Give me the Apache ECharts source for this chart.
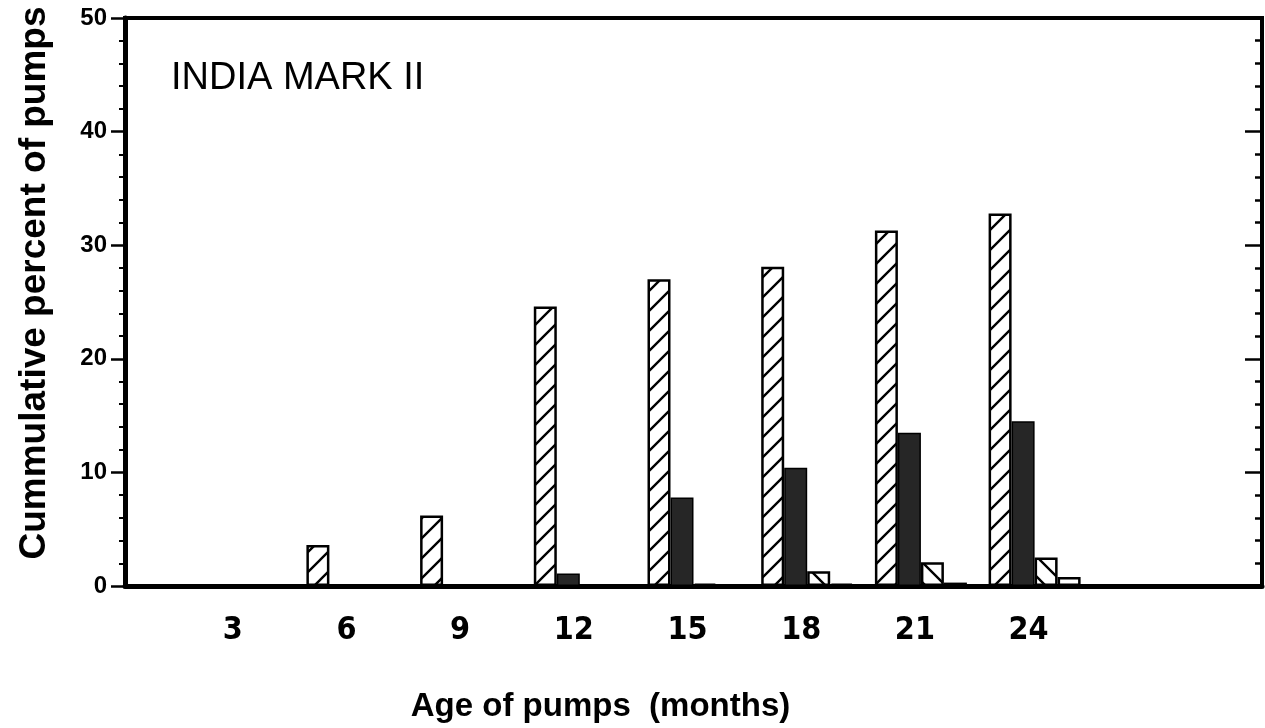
<!DOCTYPE html>
<html>
<head>
<meta charset="utf-8">
<title>India Mark II</title>
<script src="https://cdn.jsdelivr.net/npm/echarts@6/dist/echarts.min.js"></script>
<style>
    html, body { margin: 0; padding: 0; background: #fff; }
    #chart { width: 1265px; height: 728px; }
</style>
</head>
<body>
<div id="chart"></div>
<script>
// x axis runs 0..30 months, only 3..24 carry a label
const months = ['0', '3', '6', '9', '12', '15', '18', '21', '24', '27', '30'];
const ages = ['3', '6', '9', '12', '15', '18', '21', '24'];

// cummulative percent of pumps, one value per age
const hatchedUp = [0, 3.6, 6.2, 24.6, 27.0, 28.1, 31.3, 32.8];
const solidDark = [0, 0, 0, 1.1, 7.8, 10.4, 13.5, 14.5];
const hatchedDown = [0, 0, 0, 0, 0.2, 1.3, 2.1, 2.5];
const plainWhite = [0, 0, 0, 0, 0, 0.2, 0.3, 0.8];

const FONT = "'Liberation Sans', Arial, sans-serif";
const NARROW = "'DejaVu Sans Condensed', 'Liberation Sans', sans-serif";

// put the values on the full 0..30 axis
function onAxis(vals) {
    return months.map((m) => {
        const i = ages.indexOf(m);
        return i < 0 ? null : vals[i];
    });
}

// diagonal hatch tile, dir 1 = "/", dir -1 = "\"
function hatch(dir) {
    const s = 20;
    const c = document.createElement('canvas');
    c.width = s;
    c.height = s;
    const ctx = c.getContext('2d');
    ctx.fillStyle = '#fff';
    ctx.fillRect(0, 0, s, s);
    ctx.strokeStyle = '#000';
    ctx.lineWidth = 2.4;
    if (dir < 0) {
        ctx.translate(s, 0);
        ctx.scale(-1, 1);
    }
    ctx.beginPath();
    ctx.moveTo(-3, s + 3); ctx.lineTo(s + 3, -3);
    ctx.moveTo(-3, 3); ctx.lineTo(3, -3);
    ctx.moveTo(s - 3, s + 3); ctx.lineTo(s + 3, s - 3);
    ctx.stroke();
    return c;
}

const barBase = {
    type: 'bar',
    barWidth: 23,
    barGap: '0%',
    silent: true
};

const chart = echarts.init(document.getElementById('chart'));
chart.setOption({
    animation: false,
    backgroundColor: '#fff',
    title: {
        text: 'INDIA MARK II',
        left: 171,
        top: 60,
        padding: 0,
        textStyle: { fontFamily: FONT, fontSize: 38, fontWeight: 'normal', color: '#000' }
    },
    grid: {
        left: 125,
        right: 3,
        top: 18,
        bottom: 142,
        show: true,
        borderColor: '#000',
        borderWidth: 4
    },
    xAxis: {
        type: 'category',
        data: months,
        boundaryGap: false,
        name: 'Age of pumps  (months)',
        nameLocation: 'middle',
        nameGap: 104,
        nameTextStyle: {
            fontFamily: FONT, fontSize: 33, fontWeight: 'bold', color: '#000',
            padding: [0, 186, 0, 0]
        },
        axisLine: { lineStyle: { color: '#000', width: 5 } },
        axisTick: { show: false },
        axisLabel: {
            interval: 0,
            margin: 29,
            padding: [0, 12, 0, 0],
            fontFamily: NARROW,
            fontSize: 32,
            fontWeight: 'bold',
            color: '#000',
            formatter: (v) => (ages.indexOf(v) < 0 ? '' : v)
        },
        splitLine: { show: false }
    },
    yAxis: [
        {
            type: 'value',
            min: 0,
            max: 50,
            interval: 10,
            name: 'Cummulative percent of pumps',
            nameLocation: 'middle',
            nameGap: 72,
            nameTextStyle: {
                fontFamily: FONT, fontSize: 37, fontWeight: 'bold', color: '#000',
                padding: [0, 0, 0, 38]
            },
            axisLine: { show: true, lineStyle: { color: '#000', width: 5 } },
            axisTick: { show: true, length: 14, lineStyle: { color: '#000', width: 2.5 } },
            minorTick: { show: true, splitNumber: 5, length: 6, lineStyle: { color: '#000', width: 2 } },
            axisLabel: { margin: 18, fontFamily: FONT, fontSize: 24, fontWeight: 'bold', color: '#000' },
            splitLine: { show: false }
        },
        {
            type: 'value',
            position: 'right',
            min: 0,
            max: 50,
            interval: 10,
            axisLine: { show: true, lineStyle: { color: '#000', width: 4 } },
            axisTick: { show: true, inside: true, length: 17, lineStyle: { color: '#000', width: 2.5 } },
            minorTick: { show: true, splitNumber: 5, length: 7, lineStyle: { color: '#000', width: 2.5 } },
            axisLabel: { show: false },
            splitLine: { show: false }
        }
    ],
    series: [
        Object.assign({}, barBase, {
            data: onAxis(hatchedUp),
            itemStyle: { color: { image: hatch(1), repeat: 'repeat' }, borderColor: '#000', borderWidth: 2.5 }
        }),
        Object.assign({}, barBase, {
            data: onAxis(solidDark),
            itemStyle: { color: '#262626', borderColor: '#000', borderWidth: 1.5 }
        }),
        Object.assign({}, barBase, {
            data: onAxis(hatchedDown),
            itemStyle: { color: { image: hatch(-1), repeat: 'repeat' }, borderColor: '#000', borderWidth: 2.5 }
        }),
        Object.assign({}, barBase, {
            data: onAxis(plainWhite),
            itemStyle: { color: '#fff', borderColor: '#000', borderWidth: 2.5 }
        })
    ]
});
</script>
</body>
</html>
